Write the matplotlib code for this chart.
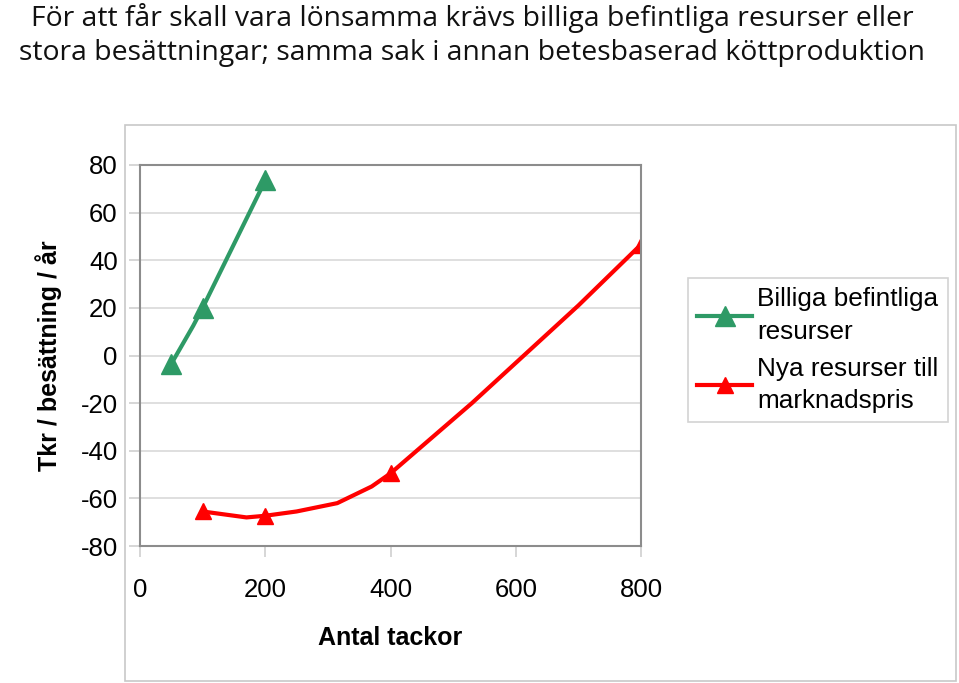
import matplotlib
matplotlib.use("Agg")
import matplotlib.pyplot as plt
from matplotlib.patches import Rectangle

plt.rcParams["axes.unicode_minus"] = False

# Billiga befintliga resurser
green_x = [50, 85, 100, 200]
green_y = [-3.5, 12.5, 20, 73.5]
green_mx = [50, 100, 200]
green_my = [-3.5, 20, 73.5]

# Nya resurser till marknadspris
red_x = [100, 170, 200, 250, 315, 370, 400, 530, 700, 800]
red_y = [-65.5, -68, -67.3, -65.5, -62, -55, -49.5, -20, 21, 46.6]
red_mx = [100, 200, 400, 800]
red_my = [-65.5, -67.3, -49.5, 46.6]

x_ticks = [0, 200, 400, 600, 800]
y_ticks = [-80, -60, -40, -20, 0, 20, 40, 60, 80]

title = ("För att får skall vara lönsamma krävs billiga befintliga resurser eller\n"
         "stora besättningar; samma sak i annan betesbaserad köttproduktion")

green = "#2E9A66"
red = "#FF0000"
gray = "#8C8C8C"

fig = plt.figure(figsize=(9.59, 6.83), dpi=100)
W, H = 959, 683

# chart area border
fig.patches.append(Rectangle((125 / W, 0.003), (956 - 125) / W, (683 - 125) / H - 0.003,
                             transform=fig.transFigure, fill=False,
                             edgecolor="#C8C8C8", linewidth=1.2))

fig.text(472 / W, 1 - 35 / H, title, ha="center", va="center", fontsize=20.4,
         family="Open Sans", linespacing=1.24, color="#111111")

ax = fig.add_axes([140 / W, (683 - 546) / H, (641 - 140) / W, (546 - 165) / H])

ax.plot(green_x, green_y, color=green, linewidth=3)
ax.plot(green_mx, green_my, linestyle="none", marker="^", markersize=14, color=green)
ax.plot([], [], color=green, linewidth=3, marker="^", markersize=14,
        label="Billiga befintliga\nresurser")

ax.plot(red_x, red_y, color=red, linewidth=3)
ax.plot(red_mx, red_my, linestyle="none", marker="^", markersize=12, color=red)
ax.plot([], [], color=red, linewidth=3, marker="^", markersize=12,
        label="Nya resurser till\nmarknadspris")

ax.set_xlim(0, 800)
ax.set_ylim(-80, 80)
ax.set_xticks(x_ticks)
ax.set_yticks(y_ticks)
ax.grid(axis="y", color="#D9D9D9", linewidth=1.2)
ax.set_axisbelow(True)
for s in ax.spines.values():
    s.set_color(gray)
    s.set_linewidth(1.5)
ax.tick_params(axis="both", colors="#D0D0D0", length=8, width=1.2,
               labelsize=18.5, labelcolor="black")
ax.tick_params(axis="x", pad=15)
ax.tick_params(axis="y", pad=8)
for lab in ax.get_xticklabels() + ax.get_yticklabels():
    lab.set_family("Liberation Sans")

ax.set_xlabel("Antal tackor", fontsize=18, fontweight="bold", family="Liberation Sans",
              labelpad=17)
ax.set_ylabel("Tkr / besättning / år", fontsize=18, fontweight="bold",
              family="Liberation Sans", labelpad=13)

leg = ax.legend(loc="upper left", bbox_to_anchor=(688 / W, 1 - 278 / H),
                bbox_transform=fig.transFigure, frameon=True, fancybox=False,
                prop={"family": "Liberation Sans", "size": 18.8}, handlelength=2.1,
                handletextpad=0.2, borderpad=0.35, labelspacing=0.5,
                borderaxespad=0)
for t in leg.get_texts():
    t.set_linespacing(1.45)
leg.get_frame().set_edgecolor("#C8C8C8")
leg.get_frame().set_linewidth(1.2)

fig.savefig("out.png", dpi=100)
